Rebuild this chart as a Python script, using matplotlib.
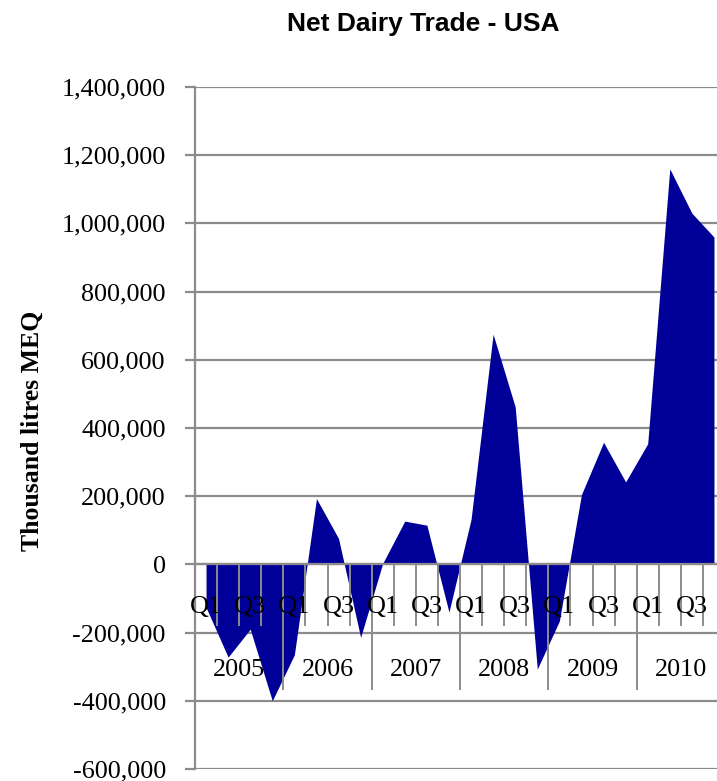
import matplotlib
matplotlib.use('Agg')
import matplotlib.pyplot as plt
from matplotlib.ticker import FuncFormatter, MultipleLocator

# quarterly net dairy trade, USA (thousand litres milk equivalent)
years = ['2005', '2006', '2007', '2008', '2009', '2010']
quarters = ['Q1', 'Q2', 'Q3', 'Q4']
net_trade = [-126000, -272000, -190000, -400000,
             -265000, 193000, 76000, -214000,
             3000, 127000, 115000, -140000,
             132000, 675000, 462000, -307000,
             -166000, 205000, 358000, 242000,
             354000, 1160000, 1030000, 960000]
shown_quarters = ['Q1', 'Q3']

fill_color = '#000099'
grid_color = '#8c8c8c'
serif = 'Liberation Serif'

fig = plt.figure(figsize=(7.17, 7.81), dpi=100)
ax = fig.add_axes([195/717, 12/781, 530/717, 682/781])

x = list(range(len(net_trade)))
ax.fill_between(x, net_trade, 0, color=fill_color, lw=0, zorder=2)

ax.set_xlim(-0.5, len(net_trade) - 0.5)
ax.set_ylim(-600000, 1400000)
ax.yaxis.set_major_locator(MultipleLocator(200000))
ax.yaxis.set_major_formatter(FuncFormatter(lambda v, p: f'{v:,.0f}'))
ax.set_xticks([])
ax.set_axisbelow(True)
ax.grid(axis='y', color=grid_color, lw=1.6)
for s in ['top', 'right', 'bottom']:
    ax.spines[s].set_visible(False)
ax.spines['left'].set_color(grid_color)
ax.spines['left'].set_linewidth(1.6)
ax.tick_params(axis='y', colors=grid_color, length=7, width=1.6, pad=14,
               labelsize=18.8, labelcolor='black')
for lab in ax.get_yticklabels():
    lab.set_family(serif)

# category axis at zero with a two-level label table
ax.axhline(0, color=grid_color, lw=1.6, zorder=3)
n_q = len(quarters)
for k in range(1, len(net_trade)):
    bottom = -368000 if k % n_q == 0 else -182000
    ax.plot([k - 0.5, k - 0.5], [0, bottom], color=grid_color, lw=1.4,
            zorder=3, solid_capstyle='butt')
for i in x:
    q = quarters[i % n_q]
    if q in shown_quarters:
        ax.text(i, -125000, q, ha='center', va='center', family=serif,
                fontsize=18.8, zorder=4)
for j, yr in enumerate(years):
    ax.text(j * n_q + (n_q - 1) / 2, -311000, yr, ha='center', va='center',
            family=serif, fontsize=18.8, zorder=4)

fig.text(423/717, 1 - 31/781, 'Net Dairy Trade - USA', ha='center',
         va='baseline', family='Liberation Sans', weight='bold', fontsize=19)
fig.text(32/717, 1 - 431/781, 'Thousand litres MEQ', ha='center',
         va='center', rotation=90, family=serif, weight='bold', fontsize=18.5)

fig.savefig('out.png', dpi=100)
